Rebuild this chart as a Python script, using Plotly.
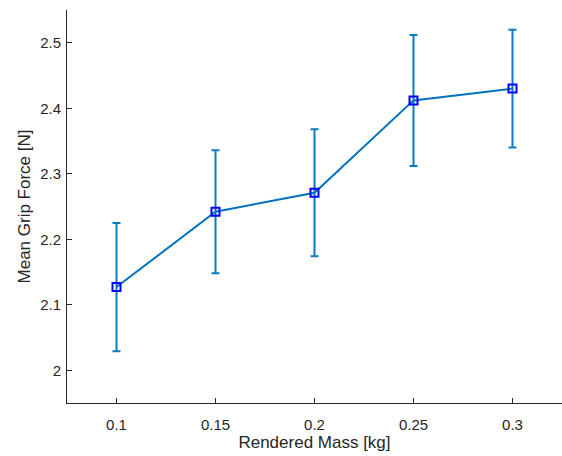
import plotly.graph_objects as go

mass = [0.1, 0.15, 0.2, 0.25, 0.3]
force = [2.127, 2.242, 2.271, 2.412, 2.430]
err = [0.098, 0.094, 0.097, 0.100, 0.090]
x_ticks = [0.1, 0.15, 0.2, 0.25, 0.3]
x_labels = ["0.1", "0.15", "0.2", "0.25", "0.3"]
y_ticks = [2, 2.1, 2.2, 2.3, 2.4, 2.5]
y_labels = ["2", "2.1", "2.2", "2.3", "2.4", "2.5"]

FONT = "Liberation Sans, Arial, Helvetica, sans-serif"
INK = "#262626"

fig = go.Figure()
fig.add_trace(go.Scatter(
    x=mass, y=force, mode="lines+markers",
    line=dict(color="#0072BD", width=2),
    marker=dict(symbol="square-open", size=8, color="#0000FF", line=dict(width=2, color="#0000FF")),
    error_y=dict(type="data", array=err, visible=True, color="#0A7CC4", thickness=2, width=4),
    showlegend=False,
))

axis_common = dict(
    showline=True, linecolor=INK, linewidth=1,
    ticks="inside", ticklen=5, tickcolor=INK,
    showgrid=False, zeroline=False,
    tickfont=dict(family=FONT, size=15, color=INK),
)

fig.update_layout(
    width=562, height=456,
    margin=dict(l=67, r=0, t=10, b=53),
    paper_bgcolor="white", plot_bgcolor="white",
    xaxis=dict(range=[0.075, 0.325], tickvals=x_ticks, ticktext=x_labels,
               ticklabelstandoff=8,
               title=dict(text="Rendered Mass [kg]", standoff=2,
                          font=dict(family=FONT, size=17, color=INK)),
               **axis_common),
    yaxis=dict(range=[1.95, 2.55], tickvals=y_ticks, ticktext=y_labels,
               ticklabelstandoff=2,
               title=dict(text="Mean Grip Force [N]", standoff=5,
                          font=dict(family=FONT, size=17, color=INK)),
               **axis_common),
)

fig.write_html("out.html", config={"displayModeBar": False},
               post_script="document.body.style.margin='0';document.body.style.overflow='hidden';")
